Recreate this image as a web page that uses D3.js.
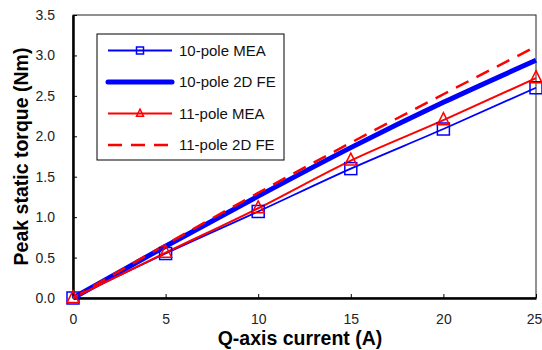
<!DOCTYPE html>
<html>
<head>
<meta charset="utf-8">
<script src="https://cdn.jsdelivr.net/npm/d3@7"></script>
<style>
  body { margin: 0; background: #fff; }
  svg { font-family: "Liberation Sans", Arial, sans-serif; }
</style>
</head>
<body>
<div id="chart"></div>
<script>
// data
const current = [0, 5, 10, 15, 20, 25];
const pole10MEA = [0, 0.55, 1.07, 1.60, 2.09, 2.60];
const pole10FE = [0, 0.64, 1.26, 1.86, 2.42, 2.94];
const pole11MEA = [0, 0.56, 1.11, 1.70, 2.20, 2.72];
const pole11FE = [0, 0.66, 1.30, 1.92, 2.52, 3.11];
const xTicks = [0, 5, 10, 15, 20, 25];
const yTicks = [0, 0.5, 1, 1.5, 2, 2.5, 3, 3.5];

const series = [
  { name: '10-pole MEA', values: pole10MEA, color: '#0000ff', width: 1.8, dash: null, marker: 'square' },
  { name: '10-pole 2D FE', values: pole10FE, color: '#0000ff', width: 5, dash: null, marker: null },
  { name: '11-pole MEA', values: pole11MEA, color: '#ff0000', width: 2, dash: null, marker: 'triangle' },
  { name: '11-pole 2D FE', values: pole11FE, color: '#ff0000', width: 2.5, dash: '14,9', marker: null }
];

const W = 542, H = 350;
const margin = { top: 15, right: 6, bottom: 52, left: 73 };
const width = W - margin.left - margin.right;
const height = H - margin.top - margin.bottom;

const svg = d3.select('#chart').append('svg')
  .attr('width', W).attr('height', H);
const g = svg.append('g')
  .attr('transform', 'translate(' + margin.left + ',' + margin.top + ')');

const x = d3.scaleLinear().domain([0, 25]).range([0, width]);
const y = d3.scaleLinear().domain([0, 3.5]).range([height, 0]);

// frame (top / right thin)
g.append('rect')
  .attr('width', width).attr('height', height)
  .attr('fill', 'none').attr('stroke', '#222').attr('stroke-width', 1);

// axes with inward ticks
const xAxis = g.append('g')
  .attr('transform', 'translate(0,' + height + ')')
  .call(d3.axisBottom(x).tickValues(xTicks).tickSizeInner(-4).tickSizeOuter(0).tickPadding(16));
const yAxis = g.append('g')
  .call(d3.axisLeft(y).tickValues(yTicks).tickFormat(d3.format('.1f')).tickSizeInner(-4).tickSizeOuter(0).tickPadding(18));
[xAxis, yAxis].forEach(function(a) {
  a.select('.domain').attr('stroke', '#000').attr('stroke-width', 2.5);
  a.selectAll('.tick line').attr('stroke', '#000').attr('stroke-width', 1);
  a.selectAll('.tick text').attr('font-size', 14).attr('fill', '#222')
    .attr('font-family', '"Liberation Sans", Arial, sans-serif');
});
// last x label sits against the page edge, as in the original
xAxis.selectAll('.tick text').filter(function(d) { return d === 25; }).attr('dx', -2);

const line = d3.line()
  .x(function(d, i) { return x(current[i]); })
  .y(function(d) { return y(d); })
  .curve(d3.curveMonotoneX);

series.forEach(function(s) {
  g.append('path')
    .attr('d', line(s.values))
    .attr('fill', 'none')
    .attr('stroke', s.color)
    .attr('stroke-width', s.width)
    .attr('stroke-dasharray', s.dash);
});

function drawMarker(sel, type, cx, cy, size, color) {
  if (type === 'square') {
    sel.append('rect')
      .attr('x', cx - size / 2).attr('y', cy - size / 2)
      .attr('width', size).attr('height', size)
      .attr('fill', 'none').attr('stroke', color).attr('stroke-width', 1.5);
  } else if (type === 'triangle') {
    const h = size;
    sel.append('path')
      .attr('d', 'M' + cx + ',' + (cy - h * 0.62) + 'L' + (cx + size / 2) + ',' + (cy + h * 0.38) +
        'L' + (cx - size / 2) + ',' + (cy + h * 0.38) + 'Z')
      .attr('fill', 'none').attr('stroke', color).attr('stroke-width', 1.5);
  }
}

series.forEach(function(s) {
  if (!s.marker) return;
  s.values.forEach(function(v, i) {
    drawMarker(g, s.marker, x(current[i]), y(v), 12, s.color);
  });
});

// legend
const legend = svg.append('g').attr('transform', 'translate(97,34)');
legend.append('rect')
  .attr('width', 187).attr('height', 126)
  .attr('fill', '#fff').attr('stroke', '#000').attr('stroke-width', 1);
series.forEach(function(s, i) {
  const ly = 16.5 + i * 31.5;
  legend.append('line')
    .attr('x1', 11).attr('x2', 75).attr('y1', ly).attr('y2', ly)
    .attr('stroke', s.color).attr('stroke-width', s.width)
    .attr('stroke-linecap', s.width > 3 ? 'round' : 'butt')
    .attr('stroke-dasharray', s.dash);
  if (s.marker) drawMarker(legend, s.marker, 43, ly, 7, s.color);
  legend.append('text')
    .attr('x', 82).attr('y', ly).attr('dy', '0.35em')
    .attr('font-size', 15).attr('fill', '#111')
    .text(s.name);
});

// axis titles
svg.append('text')
  .attr('x', 300).attr('y', 345)
  .attr('text-anchor', 'middle')
  .attr('font-size', 19.5).attr('font-weight', 'bold')
  .text('Q-axis current (A)');
svg.append('text')
  .attr('transform', 'translate(28,' + (margin.top + height / 2) + ') rotate(-90)')
  .attr('text-anchor', 'middle')
  .attr('font-size', 19.5).attr('font-weight', 'bold')
  .text('Peak static torque (Nm)');
</script>
</body>
</html>
